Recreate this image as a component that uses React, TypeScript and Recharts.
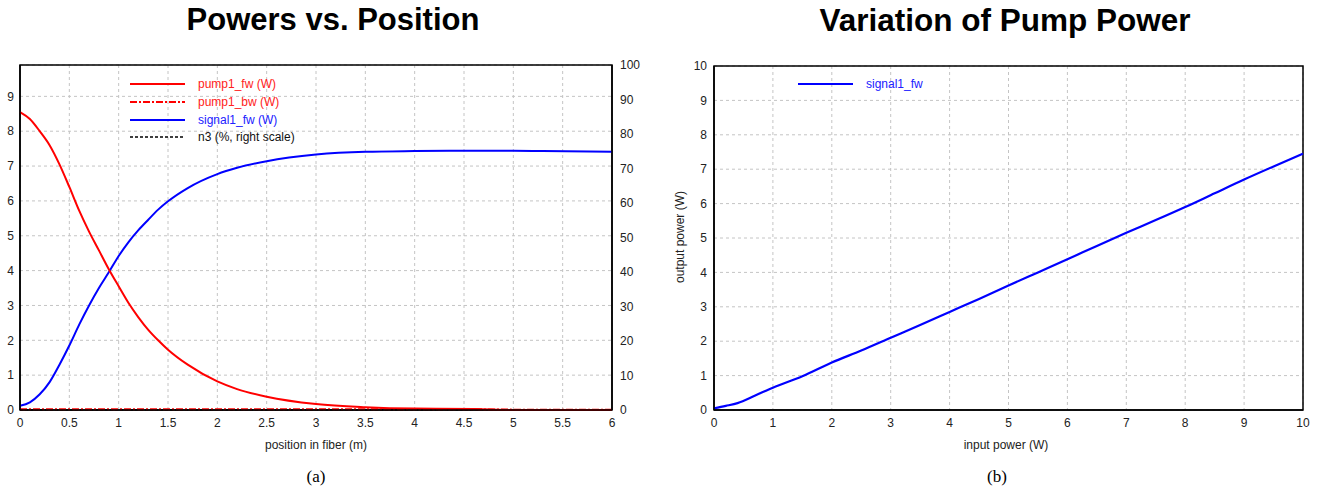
import React from 'react';
import { LineChart, Line, XAxis, YAxis, CartesianGrid, ReferenceArea } from 'recharts';

// ---- Chart (a): Powers vs. Position ----
const positions = [0, 0.1, 0.2, 0.3, 0.4, 0.5, 0.6, 0.7, 0.8, 0.9, 1.0, 1.1, 1.2, 1.3, 1.4, 1.5, 1.7, 2.0, 2.2, 2.5, 3.0, 3.5, 4.0, 4.6, 5.0, 5.3, 6.0];
const pump1Fw = [8.55, 8.35, 8.0, 7.6, 7.05, 6.4, 5.72, 5.12, 4.58, 4.04, 3.55, 3.07, 2.66, 2.3, 2.0, 1.73, 1.3, 0.82, 0.6, 0.38, 0.17, 0.08, 0.04, 0.03, 0.0, 0.0, 0.0];
const pump1Bw = [0.02, 0.02, 0.02, 0.02, 0.02, 0.02, 0.02, 0.02, 0.02, 0.02, 0.02, 0.02, 0.02, 0.02, 0.02, 0.02, 0.02, 0.02, 0.02, 0.02, 0.02, 0.02, 0.02, 0.02, 0.01, 0.01, 0.01];
const signal1Fw = [0.12, 0.22, 0.45, 0.8, 1.3, 1.85, 2.45, 3.0, 3.5, 3.95, 4.42, 4.82, 5.16, 5.46, 5.75, 5.99, 6.37, 6.77, 6.95, 7.14, 7.33, 7.41, 7.43, 7.44, 7.44, 7.43, 7.41];
const n3 = [0.1, 0.1, 0.1, 0.1, 0.1, 0.1, 0.1, 0.1, 0.1, 0.1, 0.1, 0.1, 0.1, 0.1, 0.1, 0.1, 0.1, 0.1, 0.1, 0.1, 0.1, 0.1, 0.1, 0.1, 0.1, 0.1, 0.1];
const posTicks = [0, 0.5, 1, 1.5, 2, 2.5, 3, 3.5, 4, 4.5, 5, 5.5, 6];
const leftPowerTicks = [0, 1, 2, 3, 4, 5, 6, 7, 8, 9];
const percentTicks = [0, 10, 20, 30, 40, 50, 60, 70, 80, 90, 100];

// ---- Chart (b): Variation of Pump Power ----
const inputPower = [0, 0.2, 0.4, 0.7, 1, 1.5, 2, 2.5, 3, 3.5, 4, 4.5, 5, 5.5, 6, 6.5, 7, 7.5, 8, 8.5, 9, 9.5, 10];
const outputPower = [0.05, 0.12, 0.2, 0.42, 0.65, 0.98, 1.38, 1.73, 2.1, 2.47, 2.85, 3.23, 3.62, 4.0, 4.38, 4.77, 5.15, 5.52, 5.9, 6.3, 6.7, 7.08, 7.45];
const inputTicks = [0, 1, 2, 3, 4, 5, 6, 7, 8, 9, 10];
const outputTicks = [0, 1, 2, 3, 4, 5, 6, 7, 8, 9, 10];

const dataA = positions.map((x, i) => ({ x, pumpFw: pump1Fw[i], pumpBw: pump1Bw[i], signal: signal1Fw[i], n3: n3[i] }));
const dataB = inputPower.map((x, i) => ({ x, out: outputPower[i] }));

const FONT = 'Arial, "Liberation Sans", sans-serif';
const tickStyle = { fontSize: 12, fill: '#222', fontFamily: FONT };
const gridColor = '#c4c4c4';

const LegendRow = ({ top, left, color, dash, label, textColor }: any) => (
  <div style={{ position: 'absolute', top: top - 8, left, height: 16, display: 'flex', alignItems: 'center' }}>
    <svg width={56} height={16} style={{ display: 'block' }}>
      <line x1={0} y1={8} x2={55} y2={8} stroke={color} strokeWidth={dash === 'n3' ? 1.5 : 2.2}
        strokeDasharray={dash === 'dashdot' ? '7 2 2 2' : dash === 'n3' ? '3 2' : undefined} />
    </svg>
    <span style={{ marginLeft: 12, fontSize: 12, color: textColor, fontFamily: FONT, whiteSpace: 'nowrap' }}>{label}</span>
  </div>
);

export default function App() {
  return (
    <div style={{ position: 'absolute', left: 0, top: 0, width: 1324, height: 491, background: '#fff', overflow: 'hidden', fontFamily: FONT }}>
      {/* Titles */}
      <div style={{ position: 'absolute', left: 0, width: 666, top: 2, textAlign: 'center', fontSize: 31, fontWeight: 'bold', color: '#000' }}>Powers vs. Position</div>
      <div style={{ position: 'absolute', left: 700, width: 610, top: 2, textAlign: 'center', fontSize: 31.5, fontWeight: 'bold', color: '#000' }}>Variation of Pump Power</div>

      {/* Chart (a) */}
      <div style={{ position: 'absolute', left: 0, top: 0 }}>
        <LineChart width={660} height={460} data={dataA} margin={{ top: 65, right: 8, left: 0, bottom: 20 }}>
          <CartesianGrid stroke={gridColor} strokeDasharray="3 3" yAxisId="left" xAxisId="bottom" />
          <XAxis xAxisId="bottom" dataKey="x" type="number" domain={[0, 6]} ticks={posTicks} height={30} tick={tickStyle} tickLine={false} axisLine={{ stroke: '#000', strokeWidth: 1.5 }} />
          <YAxis yAxisId="left" orientation="left" type="number" domain={[0, 9.9]} ticks={leftPowerTicks} width={20} tick={tickStyle} tickSize={4} tickMargin={2} tickLine={false} axisLine={{ stroke: '#000', strokeWidth: 1.5 }} />
          <YAxis yAxisId="right" orientation="right" type="number" domain={[0, 100]} ticks={percentTicks} width={40} tick={{ ...tickStyle, textAnchor: 'start' }} tickSize={4} tickMargin={4} tickLine={false} axisLine={{ stroke: '#000', strokeWidth: 1.5 }} />
          <ReferenceArea xAxisId="bottom" yAxisId="left" x1={0} x2={6} y1={0} y2={9.9} fill="none" stroke="#000" strokeWidth={1.5} />
          <Line xAxisId="bottom" yAxisId="right" dataKey="n3" stroke="#000" strokeWidth={1.5} strokeDasharray="3 2" dot={false} isAnimationActive={false} type="linear" />
          <Line xAxisId="bottom" yAxisId="left" dataKey="pumpBw" stroke="#ff0000" strokeWidth={2} strokeDasharray="7 2 2 2" dot={false} isAnimationActive={false} type="linear" />
          <Line xAxisId="bottom" yAxisId="left" dataKey="signal" stroke="#0000ff" strokeWidth={2} dot={false} isAnimationActive={false} type="monotone" />
          <Line xAxisId="bottom" yAxisId="left" dataKey="pumpFw" stroke="#ff0000" strokeWidth={2} dot={false} isAnimationActive={false} type="monotone" />
        </LineChart>
      </div>
      <LegendRow top={84} left={130} color="#ff0000" label="pump1_fw (W)" textColor="#ff2020" />
      <LegendRow top={102} left={130} color="#ff0000" dash="dashdot" label="pump1_bw (W)" textColor="#ff2020" />
      <LegendRow top={120} left={130} color="#0000ff" label="signal1_fw (W)" textColor="#2020ff" />
      <LegendRow top={137} left={130} color="#000" dash="n3" label="n3 (%, right scale)" textColor="#111" />
      <div style={{ position: 'absolute', left: 216, width: 200, top: 438, textAlign: 'center', fontSize: 12, color: '#222' }}>position in fiber (m)</div>
      <div style={{ position: 'absolute', left: 266, width: 100, top: 467, textAlign: 'center', fontSize: 17, fontFamily: '"Liberation Serif", "Times New Roman", serif', color: '#000' }}>(a)</div>

      {/* Chart (b) */}
      <div style={{ position: 'absolute', left: 660, top: 0 }}>
        <LineChart width={664} height={460} data={dataB} margin={{ top: 66, right: 21, left: 0, bottom: 20 }}>
          <CartesianGrid stroke={gridColor} strokeDasharray="3 3" yAxisId="left" xAxisId="bottom" />
          <XAxis xAxisId="bottom" dataKey="x" type="number" domain={[0, 10]} ticks={inputTicks} height={30} tick={tickStyle} tickLine={false} axisLine={{ stroke: '#000', strokeWidth: 1.5 }} />
          <YAxis yAxisId="left" orientation="left" type="number" domain={[0, 10]} ticks={outputTicks} width={54} tick={tickStyle} tickSize={4} tickMargin={3} tickLine={false} axisLine={{ stroke: '#000', strokeWidth: 1.5 }} />
          <ReferenceArea xAxisId="bottom" yAxisId="left" x1={0} x2={10} y1={0} y2={10} fill="none" stroke="#000" strokeWidth={1.5} />
          <Line xAxisId="bottom" yAxisId="left" dataKey="out" stroke="#0000ff" strokeWidth={2.2} dot={false} isAnimationActive={false} type="monotone" />
        </LineChart>
      </div>
      <LegendRow top={84} left={798} color="#0000ff" label="signal1_fw" textColor="#2020ff" />
      <div style={{ position: 'absolute', left: 620, width: 120, top: 230, textAlign: 'center', fontSize: 12, color: '#222', transform: 'rotate(-90deg)' }}>output power (W)</div>
      <div style={{ position: 'absolute', left: 906, width: 200, top: 438, textAlign: 'center', fontSize: 12, color: '#222' }}>input power (W)</div>
      <div style={{ position: 'absolute', left: 947, width: 100, top: 467, textAlign: 'center', fontSize: 17, fontFamily: '"Liberation Serif", "Times New Roman", serif', color: '#000' }}>(b)</div>
    </div>
  );
}
